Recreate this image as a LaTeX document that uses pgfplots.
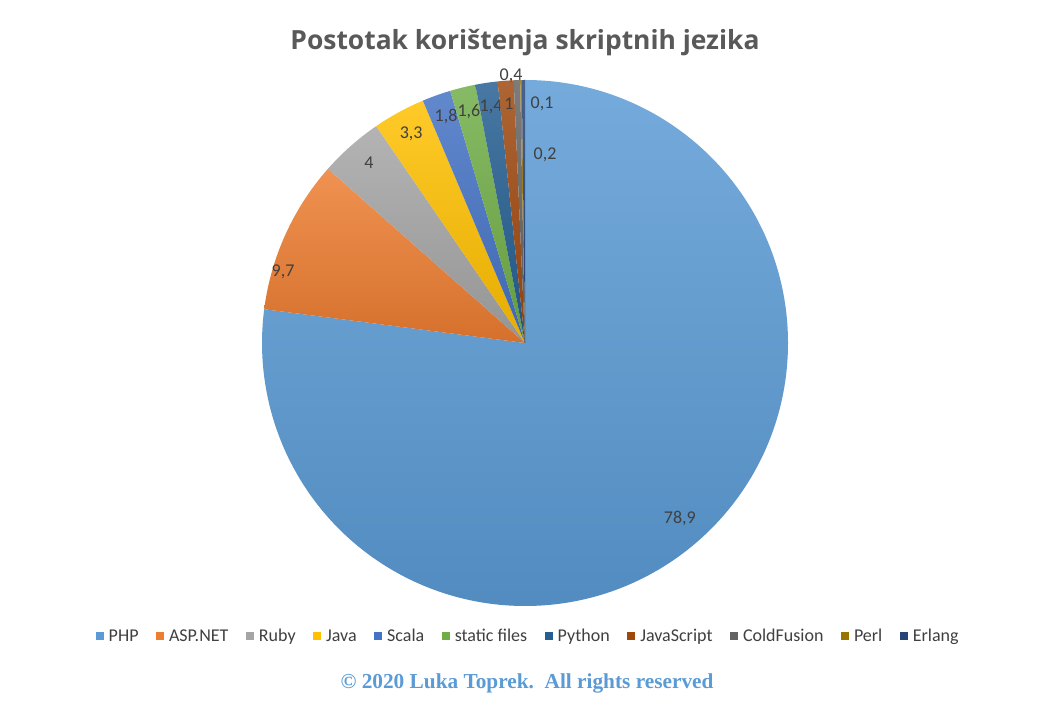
\documentclass[border=0pt]{standalone}
\usepackage{pgfplots}
\usepackage{pgfplotstable}
\pgfplotsset{compat=1.18}
\usepackage{fontspec}
\setmainfont{Carlito}
\newfontfamily\titlefont{Open Sans}
\newfontfamily\footfont{Liberation Serif}

\definecolor{cPHP}{HTML}{5B9BD5}
\definecolor{cASP}{HTML}{ED7D31}
\definecolor{cRuby}{HTML}{A5A5A5}
\definecolor{cJava}{HTML}{FFC000}
\definecolor{cScala}{HTML}{4472C4}
\definecolor{cStatic}{HTML}{70AD47}
\definecolor{cPython}{HTML}{255E91}
\definecolor{cJS}{HTML}{9E480E}
\definecolor{cCF}{HTML}{636363}
\definecolor{cPerl}{HTML}{997300}
\definecolor{cErlang}{HTML}{264478}
\definecolor{titlegrey}{HTML}{595959}
\definecolor{labelgrey}{HTML}{404040}
\definecolor{footblue}{HTML}{5B9BD5}

\pgfplotstableread{
name value color lx ly label
PHP 78.9 cPHP 0.589 -0.669 {78,9}
ASP.NET 9.7 cASP -0.920 0.270 {9,7}
Ruby 4 cRuby -0.593 0.684 {4}
Java 3.3 cJava -0.433 0.795 {3,3}
Scala 1.8 cScala -0.300 0.860 {1,8}
{static files} 1.6 cStatic -0.213 0.879 {1,6}
Python 1.4 cPython -0.129 0.897 {1,4}
JavaScript 1 cJS -0.061 0.909 {1}
ColdFusion 0.4 cCF -0.053 1.015 {0,4}
Perl 0.1 cPerl 0.065 0.909 {0,1}
Erlang 0.2 cErlang 0.076 0.715 {0,2}
}\datatable

\begin{document}
\begin{tikzpicture}
\fill[white] (0,0) rectangle (1048bp,721bp);
\useasboundingbox (0,0) rectangle (1048bp,721bp);
\pgfplotstablegetrowsof{\datatable}
\pgfmathtruncatemacro\N{\pgfplotsretval-1}
\def\total{0}
\pgfplotsforeachungrouped \i in {0,...,\N}{%
  \pgfplotstablegetelem{\i}{value}\of\datatable
  \pgfmathsetmacro\total{\total+\pgfplotsretval}%
}
\begin{axis}[
  at={(525bp,378bp)}, anchor=center,
  scale only axis, width=526bp, height=526bp,
  xmin=-1, xmax=1, ymin=-1, ymax=1,
  hide axis, clip=false,
  legend columns=11,
  legend style={at={(0.506,-0.057)}, anchor=center, draw=none, fill=none,
    font=\fontsize{18bp}{21bp}\selectfont\color{labelgrey},
    /tikz/every odd column/.style={column sep=3bp},
    /tikz/every even column/.style={column sep=15.5bp}},
  legend image code/.code={\fill[#1, draw=none] (0bp,-4bp) rectangle (8bp,4bp);},
]
\def\cum{0}
\pgfplotsforeachungrouped \i in {0,...,\N}{%
  \pgfplotstablegetelem{\i}{value}\of\datatable \let\v\pgfplotsretval
  \pgfplotstablegetelem{\i}{color}\of\datatable \let\c\pgfplotsretval
  \pgfplotstablegetelem{\i}{name}\of\datatable \let\nm\pgfplotsretval
  \pgfplotstablegetelem{\i}{lx}\of\datatable \let\lx\pgfplotsretval
  \pgfplotstablegetelem{\i}{ly}\of\datatable \let\ly\pgfplotsretval
  \pgfplotstablegetelem{\i}{label}\of\datatable \let\lb\pgfplotsretval
  \pgfmathsetmacro\sa{90-\cum/\total*360}%
  \pgfmathsetmacro\cum{\cum+\v}%
  \pgfmathsetmacro\ea{90-\cum/\total*360}%
  \edef\temp{%
    \noexpand\shade[top color=\c!84!white, bottom color=\c!90!black, shading angle=0]
      (axis cs:0,0) -- ++(\sa:263bp) arc[start angle=\sa, end angle=\ea, radius=263bp] -- cycle;
    \noexpand\node[text=labelgrey, font=\noexpand\fontsize{18bp}{21bp}\noexpand\selectfont] at (axis cs:\lx,\ly) {\lb};
    \noexpand\addlegendimage{fill=\c, draw=none}
    \noexpand\addlegendentry{\nm}
  }%
  \temp
}
\end{axis}
\node[text=titlegrey, font=\titlefont\bfseries\fontsize{26.4bp}{30bp}\selectfont] at (525bp,721bp-43bp) {Postotak korištenja skriptnih jezika};
\node[text=footblue, font=\footfont\bfseries\fontsize{21.3bp}{25bp}\selectfont] at (527bp,721bp-683bp) {© 2020 Luka Toprek.\ \ All rights reserved};
\end{tikzpicture}
\end{document}
